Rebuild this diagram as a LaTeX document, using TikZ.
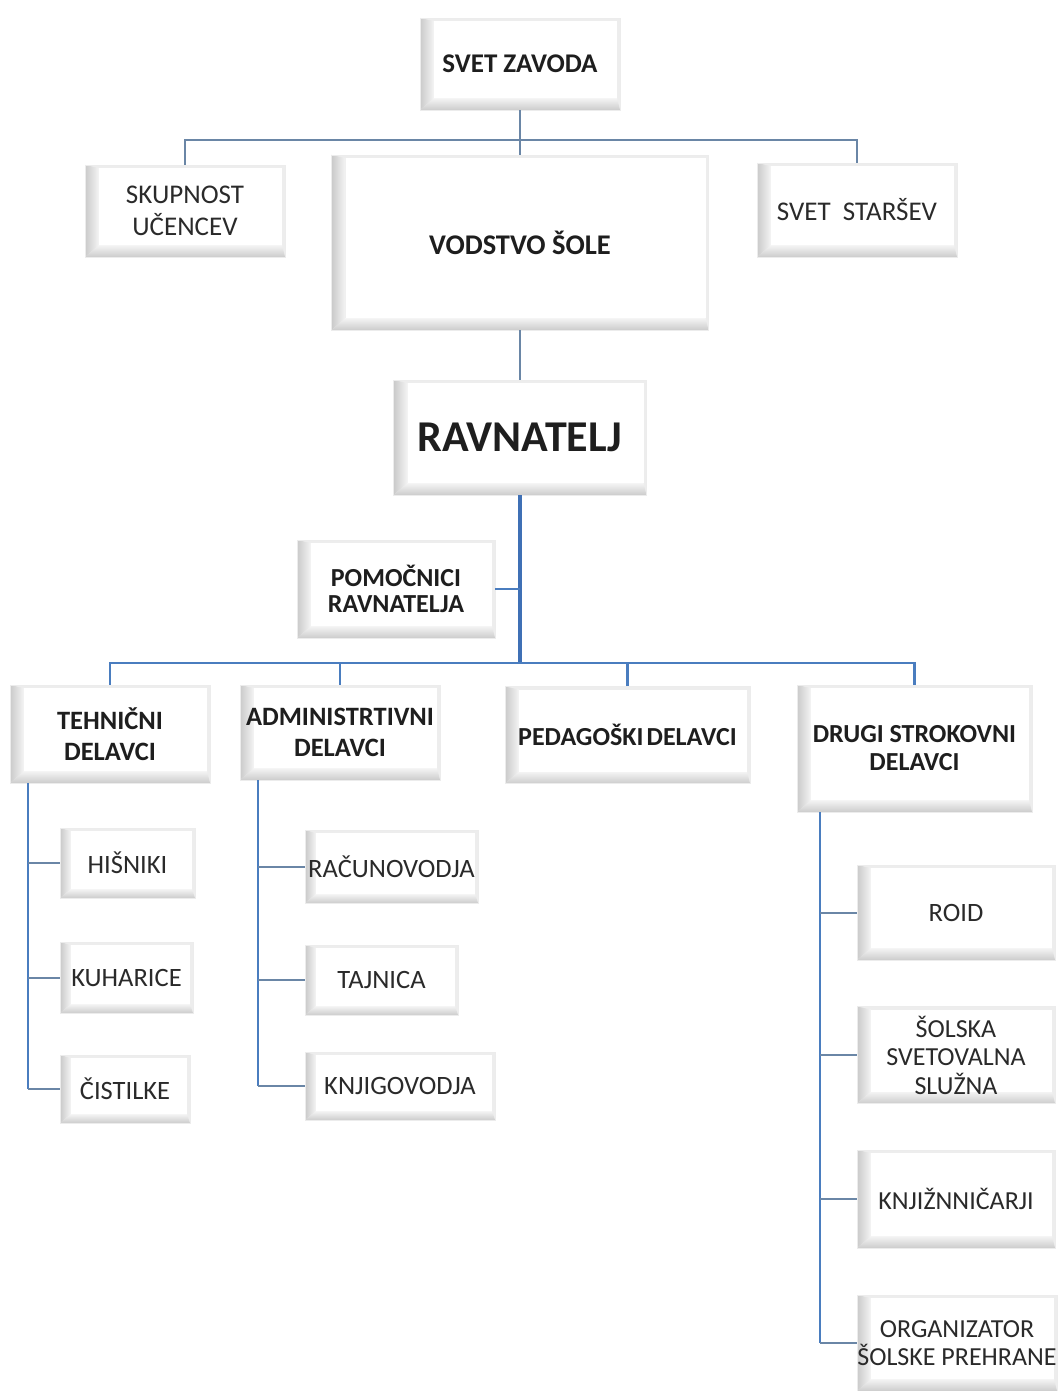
\documentclass[tikz,border=0pt]{standalone}
\usepackage{fontspec}
\setmainfont{Carlito}
\usetikzlibrary{calc}
\definecolor{lineA}{HTML}{6A86A6}
\definecolor{lineB}{HTML}{4A7DBF}
\definecolor{lineC}{HTML}{3F70B5}
\definecolor{txt}{HTML}{1E1E1E}
\definecolor{txtr}{HTML}{2A2A2A}
\tikzset{
  bev/.style 2 args={
    draw=gray!15, line width=0.6pt, inner sep=0pt, align=center, text=txt,
    path picture={
      \path (path picture bounding box.south west) coordinate (bsw)
            (path picture bounding box.north east) coordinate (bne);
      \fill[gray!14] (bsw) rectangle (bne);
      \shade[left color=gray!42, right color=gray!8]
        (bsw) -- ($(bsw)+(#1pt,#2pt)$) -- ($(bsw|-bne)+(#1pt,-3pt)$) -- (bsw|-bne) -- cycle;
      \shade[bottom color=gray!40, top color=gray!8]
        (bsw) -- (bsw-|bne) -- ($(bsw-|bne)+(-3pt,#2pt)$) -- ($(bsw)+(#1pt,#2pt)$) -- cycle;
      \fill[white] ($(bsw)+(#1pt,#2pt)$) rectangle ($(bne)+(-3pt,-3pt)$);
    }},
  bigbox/.style={bev={14}{12}},
  smallbox/.style={bev={11}{9}},
  bt/.style={font=\bfseries\fontsize{#1}{#1}\selectfont},
  conn/.style={draw=lineA, line width=1.8pt},
  mainln/.style={draw=lineB, line width=2.4pt},
  thickln/.style={draw=lineC, line width=3.2pt},
  subv/.style={draw=lineB, line width=2pt},
  subh/.style={draw=lineA, line width=2pt},
}
\begin{document}
\begin{tikzpicture}[x=1pt,y=-1pt]
\useasboundingbox (0,0) rectangle (1057,1391);
\fill[white] (0,0) rectangle (1057,1391);

% top level
\node[bigbox, minimum width=200pt, minimum height=92pt,
      font=\bfseries\fontsize{27}{31}\selectfont] (sz) at (520,64) {SVET ZAVODA};
\node[bigbox, minimum width=200pt, minimum height=92pt, text=txtr,
      font=\fontsize{27}{31.5}\selectfont] (sk) at (185,211) {SKUPNOST\\UČENCEV};
\node[bigbox, minimum width=377pt, minimum height=175pt,
      font=\bfseries\fontsize{28.5}{32}\selectfont] (vs) at (520,242.5) {VODSTVO ŠOLE};
\node[bigbox, minimum width=200pt, minimum height=94pt, text=txtr,
      font=\fontsize{27}{31}\selectfont] (ss) at (857,210) {SVET\ \ STARŠEV};
\node[bigbox, minimum width=253pt, minimum height=115pt,
      font=\bfseries\fontsize{44}{48}\selectfont] (rv) at (520,437.5) {RAVNATELJ};
\node[bigbox, minimum width=198pt, minimum height=98pt,
      font=\bfseries\fontsize{26}{26.5}\selectfont] (pr) at (396,589) {POMOČNICI\\RAVNATELJA};

% second level
\node[bigbox, minimum width=200pt, minimum height=98pt,
      font=\bfseries\fontsize{26.5}{31.5}\selectfont] (th) at (110,734) {TEHNIČNI\\DELAVCI};
\node[bigbox, minimum width=200pt, minimum height=95pt,
      font=\bfseries\fontsize{26.5}{31.5}\selectfont] (ad) at (340,732.5) {ADMINISTRTIVNI\\DELAVCI};
\node[bigbox, minimum width=245pt, minimum height=97pt,
      font=\bfseries\fontsize{26}{30}\selectfont] (pd) at (627.5,735) {PEDAGOŠKI\hspace{0.12em}DELAVCI};
\node[bigbox, minimum width=235pt, minimum height=127pt,
      font=\bfseries\fontsize{26}{28}\selectfont] (dr) at (914.5,748.5) {DRUGI STROKOVNI\\DELAVCI};

% technical
\node[smallbox, minimum width=135pt, minimum height=70pt, text=txtr,
      font=\fontsize{26.5}{30}\selectfont] (hi) at (127.5,863) {HIŠNIKI};
\node[smallbox, minimum width=133pt, minimum height=71pt, text=txtr,
      font=\fontsize{26.5}{30}\selectfont] (ku) at (126.5,977.5) {KUHARICE};
\node[smallbox, minimum width=130pt, minimum height=68pt, text=txtr,
      font=\fontsize{26.5}{30}\selectfont] (ci) at (125,1089) {ČISTILKE};

% administrative
\node[smallbox, minimum width=173pt, minimum height=73pt, text=txtr,
      font=\fontsize{26.5}{30}\selectfont] (ra) at (391.5,866.5) {RAČUNOVODJA};
\node[smallbox, minimum width=153pt, minimum height=70pt, text=txtr,
      font=\fontsize{26.5}{30}\selectfont] (ta) at (381.5,980) {TAJNICA};
\node[smallbox, minimum width=190pt, minimum height=68pt, text=txtr,
      font=\fontsize{26.5}{30}\selectfont] (kn) at (400,1086) {KNJIGOVODJA};

% other professional
\node[bigbox, minimum width=198pt, minimum height=95pt, text=txtr,
      font=\fontsize{26.5}{30}\selectfont] (ro) at (956,912.5) {ROID};
\node[bigbox, minimum width=198pt, minimum height=97pt, text=txtr,
      font=\fontsize{26}{28.5}\selectfont] (so) at (956,1055) {ŠOLSKA\\SVETOVALNA\\SLUŽNA};
\node[bigbox, minimum width=198pt, minimum height=98pt, text=txtr,
      font=\fontsize{26}{30}\selectfont] (kj) at (956,1199) {KNJIŽNNIČARJI};
\node[bigbox, minimum width=200pt, minimum height=96pt, text=txtr,
      font=\fontsize{26}{28}\selectfont] (or) at (957,1343) {ORGANIZATOR\\ŠOLSKE PREHRANE};

% connectors, top
\coordinate (t1) at (520,140);
\draw[conn] (sz.south) -- (vs.north);
\draw[conn] (sk.north) |- (t1) -| (ss.north);
\draw[conn] (vs.south) -- (rv.north);

% director down
\coordinate (m1) at (520,663);
\draw[thickln] (rv.south) -- (m1);
\draw[mainln] (pr.east) -- (pr.east -| rv.south);
\draw[mainln] (th.north) |- (m1) -| (dr.north);
\draw[mainln] (ad.north) -- (ad.north |- m1);
\draw[mainln] (pd.north) -- (pd.north |- m1);

% technical branch
\coordinate (tv) at (28,0);
\draw[subv] (tv |- th.south) -- (tv |- ci.west);
\draw[subh] (tv |- hi.west) -- (hi.west);
\draw[subh] (tv |- ku.west) -- (ku.west);
\draw[subh] (tv |- ci.west) -- (ci.west);

% administrative branch
\coordinate (av) at (258,0);
\draw[subv] (av |- ad.south) -- (av |- kn.west);
\draw[subh] (av |- ra.west) -- (ra.west);
\draw[subh] (av |- ta.west) -- (ta.west);
\draw[subh] (av |- kn.west) -- (kn.west);

% other branch
\coordinate (dv) at (820,0);
\draw[subv] (dv |- dr.south) -- (dv |- or.west);
\draw[subh] (dv |- ro.west) -- (ro.west);
\draw[subh] (dv |- so.west) -- (so.west);
\draw[subh] (dv |- kj.west) -- (kj.west);
\draw[subh] (dv |- or.west) -- (or.west);
\end{tikzpicture}
\end{document}
